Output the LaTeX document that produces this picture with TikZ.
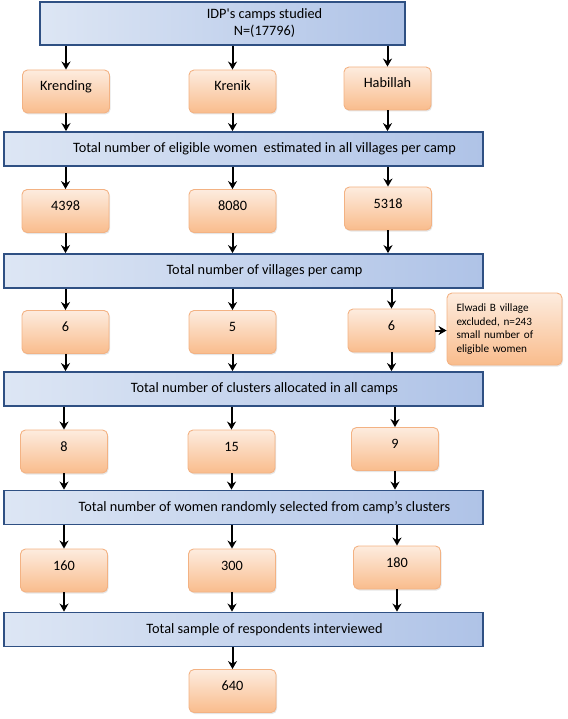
\documentclass[tikz,border=0pt]{standalone}
\usepackage{fontspec}
\setmainfont{Carlito}
\usetikzlibrary{arrows.meta,shadows}

\definecolor{stagelight}{HTML}{DDE6F4}
\definecolor{stagedark}{HTML}{AFC3E7}
\definecolor{stageline}{HTML}{2F5083}
\definecolor{camptop}{HTML}{FDECDF}
\definecolor{campbottom}{HTML}{F9BC8C}
\definecolor{campline}{HTML}{F3B283}

\begin{document}
\begin{tikzpicture}[x=1pt,y=-1pt,
        font=\fontsize{14.3}{17}\selectfont,
        stage/.style={draw=stageline, line width=1.8pt,
            left color=stagelight, right color=stagedark,
            minimum width=479pt, minimum height=34pt, inner sep=0pt,
            execute at begin node=\hspace*{42pt}},
        campbase/.style={draw=campline, line width=0.9pt, rounded corners=5pt,
            top color=camptop, bottom color=campbottom, inner sep=0pt,
            drop shadow={shadow xshift=1pt, shadow yshift=-1.5pt, opacity=0.2}},
        camp/.style={campbase, minimum width=87pt, minimum height=43pt,
            text height=10pt, text depth=11pt},
        flow/.style={-{Stealth[length=8pt,width=9pt]}, line width=2pt}
        ]
    \useasboundingbox (0,0) rectangle (567,719);

    % Balken
    \node[stage, minimum width=365pt, minimum height=43pt, align=center,
          execute at begin node={}]
        (idp) at (222.5,23.5) {\hspace*{42pt}IDP\textquotesingle s camps studied\\
                               \hspace*{42pt}N=(17796)};
    \node[stage] (elig)  at (243.5,149)   {Total number of eligible women\ \ estimated in all villages per camp};
    \node[stage] (vill)  at (243.5,271)   {Total number of villages per camp};
    \node[stage] (clus)  at (243.5,389)   {Total number of clusters allocated in all camps};
    \node[stage] (rand)  at (243.5,507.5) {Total number of women randomly selected from camp’s clusters};
    \node[stage] (samp)  at (243.5,629.5) {Total sample of respondents interviewed};

    % Lager
    \node[camp] (kre)  at (66,91.5)    {Krending};
    \node[camp] (kni)  at (232.5,91.5) {Krenik};
    \node[camp] (hab)  at (387.5,88.5) {Habillah};

    \node[camp] (e1)   at (65.5,211)   {4398};
    \node[camp] (e2)   at (232.5,211)  {8080};
    \node[camp] (e3)   at (388,208.5)  {5318};

    \node[camp] (v1)   at (65.5,332)   {6};
    \node[camp] (v2)   at (232.5,332)  {5};
    \node[camp] (v3)   at (391.5,330.5) {6};
    \node[campbase, minimum width=115pt, minimum height=72pt,
          text width=96pt, align=left, font=\fontsize{11.2}{13.4}\selectfont]
        (excl) at (504.5,329) {Elwadi B village\\excluded, n=243\\small number of\\eligible women};

    \node[camp] (c1)   at (64,451.5)   {8};
    \node[camp] (c2)   at (231.5,451.5) {15};
    \node[camp] (c3)   at (395,449)    {9};

    \node[camp] (r1)   at (64,570.5)   {160};
    \node[camp] (r2)   at (232,570.5)  {300};
    \node[camp] (r3)   at (397,567.5)  {180};

    \node[camp] (tot)  at (232.5,691)  {640};

    % Pfeile
    \draw[flow] (idp.south -| kre) -- (kre.north);
    \draw[flow] (idp.south -| kni) -- (kni.north);
    \draw[flow] (idp.south -| hab) -- (hab.north);
    \draw[flow] (kre.south) -- (kre |- elig.north);
    \draw[flow] (kni.south) -- (kni |- elig.north);
    \draw[flow] (hab.south) -- (hab |- elig.north);

    \draw[flow] (elig.south -| e1) -- (e1.north);
    \draw[flow] (elig.south -| e2) -- (e2.north);
    \draw[flow] (elig.south -| e3) -- (e3.north);
    \draw[flow] (e1.south) -- (e1 |- vill.north);
    \draw[flow] (e2.south) -- (e2 |- vill.north);
    \draw[flow] (e3.south) -- (e3 |- vill.north);

    \draw[flow] (vill.south -| v1) -- (v1.north);
    \draw[flow] (vill.south -| v2) -- (v2.north);
    \draw[flow] (vill.south -| v3) -- (v3.north);
    \draw[flow] (v3.east) -- (v3.east -| excl.west);
    \draw[flow] (v1.south) -- (v1 |- clus.north);
    \draw[flow] (v2.south) -- (v2 |- clus.north);
    \draw[flow] (v3.south) -- (v3 |- clus.north);

    \draw[flow] (clus.south -| c1) -- (c1.north);
    \draw[flow] (clus.south -| c2) -- (c2.north);
    \draw[flow] (clus.south -| c3) -- (c3.north);
    \draw[flow] (c1.south) -- (c1 |- rand.north);
    \draw[flow] (c2.south) -- (c2 |- rand.north);
    \draw[flow] (c3.south) -- (c3 |- rand.north);

    \draw[flow] (rand.south -| r1) -- (r1.north);
    \draw[flow] (rand.south -| r2) -- (r2.north);
    \draw[flow] (rand.south -| r3) -- (r3.north);
    \draw[flow] (r1.south) -- (r1 |- samp.north);
    \draw[flow] (r2.south) -- (r2 |- samp.north);
    \draw[flow] (r3.south) -- (r3 |- samp.north);

    \draw[flow] (samp.south -| tot) -- (tot.north);

\end{tikzpicture}
\end{document}
